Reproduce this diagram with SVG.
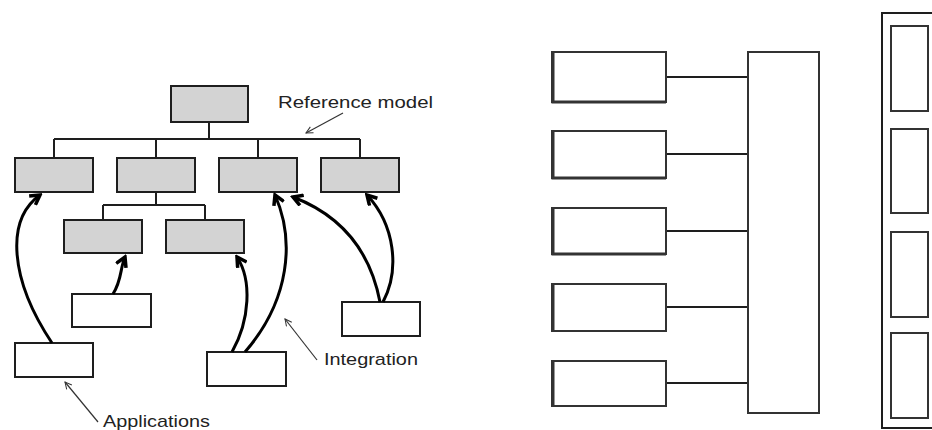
<svg xmlns="http://www.w3.org/2000/svg" width="932" height="430" viewBox="0 0 932 430">
<style>
.g{fill:#d3d3d3;stroke:#1e1e1e;stroke-width:2}
.w{fill:#fff;stroke:#1e1e1e;stroke-width:2}
.t{fill:none;stroke:#1e1e1e;stroke-width:2}
.c{fill:none;stroke:#000;stroke-width:3;marker-end:url(#ah)}
.p{fill:none;stroke:#333;stroke-width:1.2;marker-end:url(#sa)}
.lbl{font-family:"Liberation Sans","DejaVu Sans",sans-serif;font-size:17px;fill:#222}
.m{fill:#fff;stroke:#333;stroke-width:2}
.e{fill:none;stroke:#333;stroke-width:3}
</style>
<defs>
<marker id="ah" viewBox="0 0 10 10" refX="8" refY="5" markerWidth="4.5" markerHeight="4.5" orient="auto" markerUnits="strokeWidth">
<path d="M1,1 L8,5 L1,9" fill="none" stroke="#000" stroke-width="2.6"/>
</marker>
<marker id="sa" viewBox="0 0 10 10" refX="9" refY="5" markerWidth="7" markerHeight="7" orient="auto" markerUnits="strokeWidth">
<path d="M1,1 L9,5 L1,9" fill="none" stroke="#333" stroke-width="1.2"/>
</marker>
</defs>
<rect width="932" height="430" fill="#fff"/>

<!-- left: tree -->
<g id="connectors-tree">
<path class="t" d="M209,122 V139 M54,139 H360 M54,139 V158 M156,139 V158 M258,139 V158 M360,139 V158 M156,192 V205 M103,205 H205 M103,205 V220 M205,205 V220"/>
</g>
<g id="root"><rect class="g" x="171" y="86" width="77" height="36"/></g>
<g id="ref1"><rect class="g" x="15" y="158" width="78" height="34"/></g>
<g id="ref2"><rect class="g" x="117" y="158" width="78" height="34"/></g>
<g id="ref3"><rect class="g" x="219" y="158" width="78" height="34"/></g>
<g id="ref4"><rect class="g" x="321" y="158" width="78" height="34"/></g>
<g id="sub1"><rect class="g" x="64" y="220" width="78" height="33"/></g>
<g id="sub2"><rect class="g" x="166" y="220" width="78" height="33"/></g>
<g id="app1"><rect class="w" x="72" y="294" width="79" height="33"/></g>
<g id="app2"><rect class="w" x="15" y="343" width="78" height="34"/></g>
<g id="app3"><rect class="w" x="207" y="352" width="79" height="34"/></g>
<g id="app4"><rect class="w" x="342" y="302" width="78" height="34"/></g>

<g id="connectors-integration">
<path class="c" d="M52,343 C10,280 5,220 40,195"/>
<path class="c" d="M113,294 C122,280 120,268 125,257"/>
<path class="c" d="M232,352 C250,320 252,280 237,257"/>
<path class="c" d="M245,352 C290,300 295,240 275,195"/>
<path class="c" d="M380,302 C370,250 340,215 293,197"/>
<path class="c" d="M383,302 C400,270 395,225 367,195"/>
</g>

<g id="labels">
<text class="lbl" x="278" y="108" textLength="155" lengthAdjust="spacingAndGlyphs">Reference model</text>
<path class="p" d="M343,113 L306,133"/>
<text class="lbl" x="324" y="365" textLength="94" lengthAdjust="spacingAndGlyphs">Integration</text>
<path class="p" d="M317,360 L285,319"/>
<text class="lbl" x="103" y="427" textLength="107" lengthAdjust="spacingAndGlyphs">Applications</text>
<path class="p" d="M98,422 L65,382"/>
</g>

<!-- middle -->
<g id="connectors-middle">
<path class="t" d="M666,77 H748 M666,154 H748 M666,231 H748 M666,307 H748 M666,383 H748"/>
</g>
<g id="m1"><rect class="m" x="552" y="52" width="114" height="50"/><path class="e" d="M553,52 V102 H666"/></g>
<g id="m2"><rect class="m" x="552" y="131" width="114" height="47"/><path class="e" d="M553,131 V178 H666"/></g>
<g id="m3"><rect class="m" x="552" y="208" width="114" height="46"/><path class="e" d="M553,208 V254 H666"/></g>
<g id="m4"><rect class="m" x="552" y="284" width="114" height="47"/><path class="e" d="M553,284 V331"/></g>
<g id="m5"><rect class="m" x="552" y="361" width="114" height="45"/><path class="e" d="M553,361 V406"/></g>
<g id="bus"><rect class="m" x="748" y="52" width="71" height="361"/></g>

<!-- right -->
<g id="container"><rect class="w" x="882" y="13" width="60" height="415"/></g>
<g id="r1"><rect class="m" x="891" y="26" width="37" height="85"/></g>
<g id="r2"><rect class="m" x="891" y="129" width="37" height="84"/></g>
<g id="r3"><rect class="m" x="891" y="232" width="37" height="85"/></g>
<g id="r4"><rect class="m" x="891" y="333" width="37" height="85"/></g>
</svg>
